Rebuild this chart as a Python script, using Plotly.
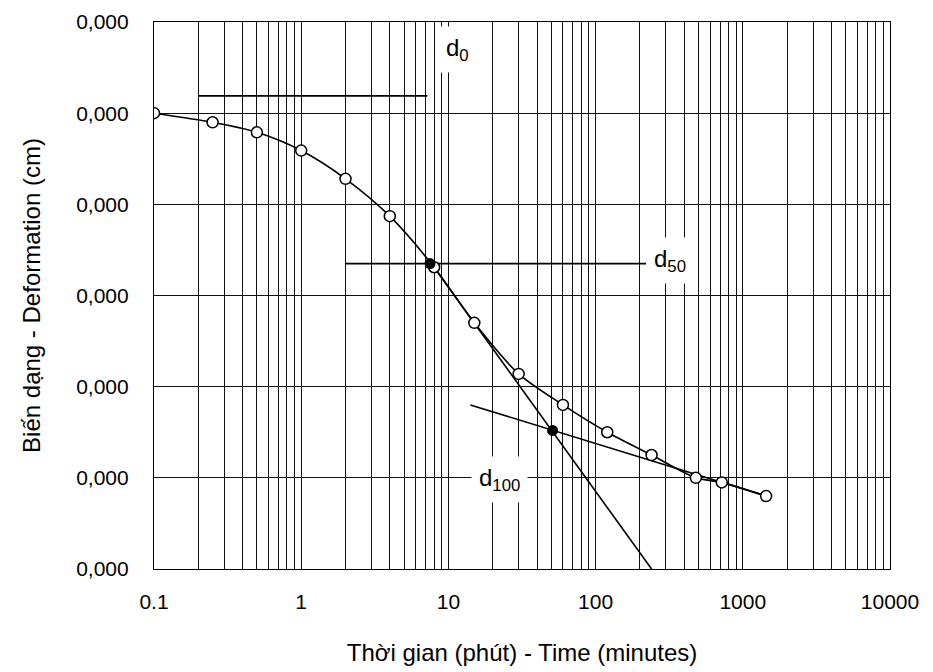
import math
import plotly.graph_objects as go

# ---- data ----
time_min = [0.1, 0.25, 0.5, 1, 2, 4, 8, 15, 30, 60, 120, 240, 480, 720, 1440]
deform_cm = [0.000100, 0.000110, 0.000121, 0.000141, 0.000172, 0.000213, 0.000269,
             0.000330, 0.000386, 0.000420, 0.000450, 0.000475, 0.000500, 0.000505, 0.000520]

d0_time = [0.2, 7.2]
d0_value = [0.000081, 0.000081]
d50_time = [2, 220]
d50_value = [0.000265, 0.000265]
d50_point_time = [7.5]
d50_point_value = [0.000265]
d100_point_time = [51]
d100_point_value = [0.000448]
steep_tangent_time = [7.5, 240]
steep_tangent_value = [0.000263, 0.000600]
flat_tangent_time = [14.1, 1440]
flat_tangent_value = [0.000420, 0.000520]

label_names = ["d<sub>0</sub>", "d<sub>50</sub>", "d<sub>100</sub>"]
label_time = [11.5, 320, 22.3]
label_value = [0.000030, 0.000262, 0.000502]

x_tick_vals = [0.1, 1, 10, 100, 1000, 10000]
x_tick_text = ["0.1", "1", "10", "100", "1000", "10000"]
y_tick_vals = [0.0, 0.0001, 0.0002, 0.0003, 0.0004, 0.0005, 0.0006]
y_tick_text = ["0,000"] * 7

x_title = "Thời gian (phút) - Time (minutes)"
y_title = "Biến dạng - Deformation (cm)"

FONT = "Liberation Sans, Arial, sans-serif"
GRID = "#111111"

fig = go.Figure()

line_style = dict(color="black", width=1.6)
fig.add_trace(go.Scatter(x=d0_time, y=d0_value, mode="lines", line=line_style, showlegend=False))
fig.add_trace(go.Scatter(x=d50_time, y=d50_value, mode="lines", line=line_style, showlegend=False))
fig.add_trace(go.Scatter(x=steep_tangent_time, y=steep_tangent_value, mode="lines",
                         line=line_style, showlegend=False))
fig.add_trace(go.Scatter(x=flat_tangent_time, y=flat_tangent_value, mode="lines",
                         line=line_style, showlegend=False))
fig.add_trace(go.Scatter(x=time_min, y=deform_cm, mode="lines+markers",
                         line=dict(color="black", width=1.6, shape="spline", smoothing=0.8),
                         marker=dict(symbol="circle", size=11, color="white",
                                     line=dict(color="black", width=1.5)),
                         showlegend=False))
fig.add_trace(go.Scatter(x=d50_point_time + d100_point_time,
                         y=d50_point_value + d100_point_value, mode="markers",
                         marker=dict(symbol="circle", size=11, color="black"),
                         showlegend=False))

for name, t, v in zip(label_names, label_time, label_value):
    fig.add_annotation(x=math.log10(t), y=v, xref="x", yref="y", text=name, showarrow=False,
                       font=dict(family=FONT, size=24, color="black"),
                       bgcolor="white", borderpad=7)

fig.update_xaxes(type="log", range=[-1, 4], tickmode="array",
                 tickvals=x_tick_vals, ticktext=x_tick_text,
                 showgrid=True, gridcolor=GRID, gridwidth=1,
                 minor=dict(dtick="D1", showgrid=True, gridcolor=GRID, gridwidth=1, ticks=""),
                 showline=True, mirror=True, linecolor="black", linewidth=1.2,
                 ticks="", ticklabelstandoff=14,
                 tickfont=dict(family=FONT, size=21, color="black"),
                 title=dict(text=x_title, font=dict(family=FONT, size=24, color="black"),
                            standoff=31),
                 zeroline=False)
fig.update_yaxes(range=[0.0006, 0], tickmode="array",
                 tickvals=y_tick_vals, ticktext=y_tick_text,
                 showgrid=True, gridcolor=GRID, gridwidth=1,
                 showline=True, mirror=True, linecolor="black", linewidth=1.2,
                 ticks="", ticklabelstandoff=20,
                 tickfont=dict(family=FONT, size=21, color="black"),
                 title=dict(text=y_title, font=dict(family=FONT, size=24, color="black"),
                            standoff=28),
                 zeroline=False)

# the page adds an 8px body margin, so the figure is drawn 8px in from the top-left
fig.update_layout(width=925, height=664,
                  margin=dict(l=146, r=43, t=14, b=103, autoexpand=False),
                  paper_bgcolor="white", plot_bgcolor="white",
                  font=dict(family=FONT, color="black"))

fig.write_html("out.html")
